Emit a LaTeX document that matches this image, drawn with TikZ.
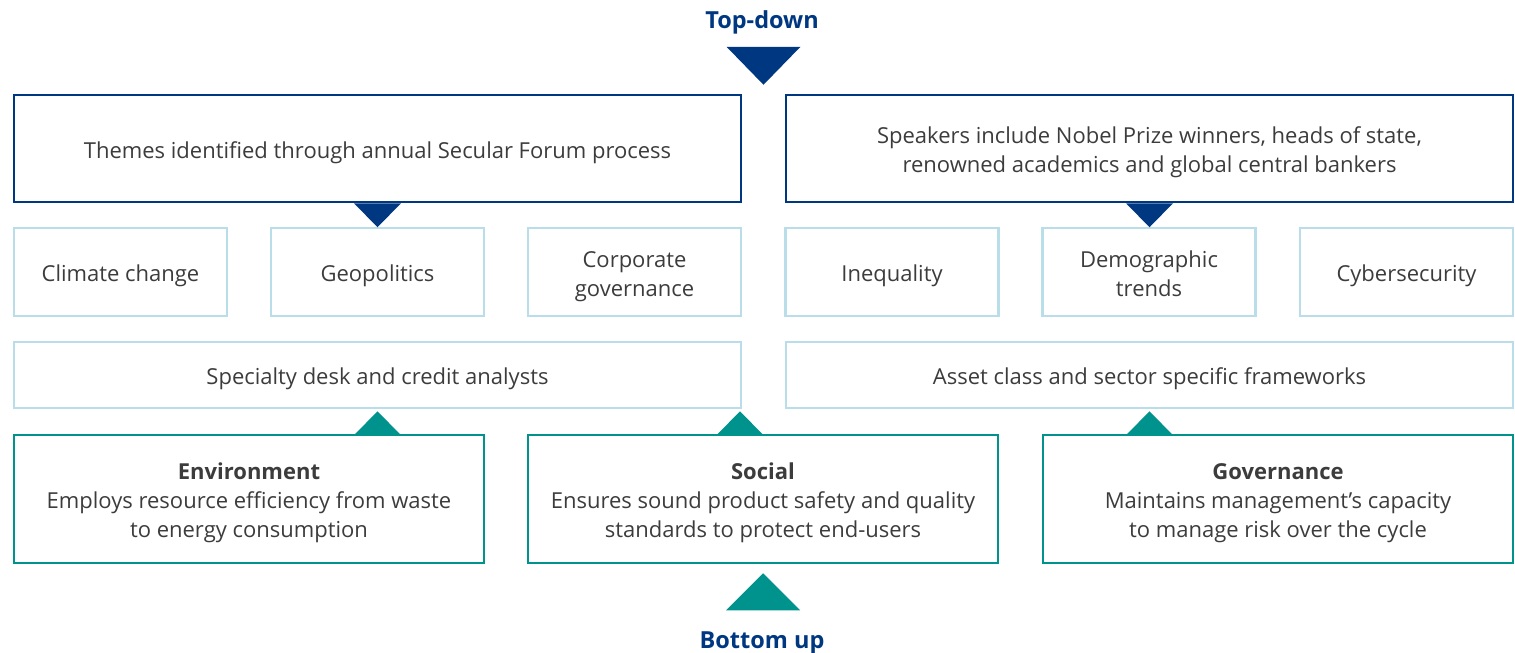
\documentclass[tikz,border=0pt]{standalone}
\usepackage{fontspec}
\setmainfont{Open Sans}
\usetikzlibrary{calc}
\definecolor{ablue}{HTML}{003781}
\definecolor{lblue}{HTML}{B9DDE9}
\definecolor{ateal}{HTML}{00928C}
\definecolor{txt}{HTML}{3C3C3C}
\newcommand\lowtext[1]{\raisebox{-4pt}[\height][\depth]{\begin{tabular}{@{}c@{}}#1\end{tabular}}}
\tikzset{
  base/.style={rectangle, line width=2.5pt, text=txt, inner sep=0pt,
    font=\fontsize{22}{29}\selectfont},
  bluebox/.style={base, draw=ablue},
  lightbox/.style={base, draw=lblue},
  tealbox/.style={base, draw=ateal},
  title/.style={text=ablue, font=\fontsize{23.5}{27}\selectfont\bfseries, inner sep=0pt},
}
\begin{document}
\begin{tikzpicture}[x=1pt,y=-1pt]
\useasboundingbox (0,0) rectangle (1515,653);
% titles
\node[title] (td) at (762,22) {Top-down};
\node[title] (bu) at (762,643) {Bottom up};
% top boxes
\node[bluebox, minimum width=727, minimum height=107] (t1) at (377.5,148.5)
  {\lowtext{Themes identified through annual Secular Forum process}};
\node[bluebox, minimum width=727, minimum height=107] (t2) at (1149.5,148.5)
  {\lowtext{Speakers include Nobel Prize winners, heads of state,\\renowned academics and global central bankers}};
% themes
\foreach \n/\x/\t in {c1/120.5/Climate change, c2/377.5/Geopolitics, c3/634.5/{Corporate\\governance},
  c4/892/Inequality, c5/1149/{Demographic\\trends}, c6/1406.5/Cybersecurity}{
  \node[lightbox, minimum width=213, minimum height=88] (\n) at (\x,272) {\lowtext{\t}};
}
% frameworks
\node[lightbox, minimum width=727, minimum height=66] (f1) at (377.5,375)
  {\lowtext{Specialty desk and credit analysts}};
\node[lightbox, minimum width=727, minimum height=66] (f2) at (1149.5,375)
  {\lowtext{Asset class and sector specific frameworks}};
% ESG
\node[tealbox, minimum width=470, minimum height=128] (e) at (249,499)
  {\lowtext{\textbf{Environment}\\Employs resource efficiency from waste\\to energy consumption}};
\node[tealbox, minimum width=470, minimum height=128] (s) at (763,499)
  {\lowtext{\textbf{Social}\\Ensures sound product safety and quality\\standards to protect end-users}};
\node[tealbox, minimum width=470, minimum height=128] (g) at (1278,499)
  {\lowtext{\textbf{Governance}\\Maintains management's capacity\\to manage risk over the cycle}};
% triangles
\coordinate (topmid) at ($(t1.north east)!0.5!(t2.north west)$);
\fill[ablue] ($(topmid)+(-37,-47)$) -- ++(74,0) -- ($(topmid)+(0,-9)$) -- cycle;
\fill[ablue] ($(t1.south)+(-23.5,0)$) -- ++(47,0) -- ($(t1.south)+(0,24)$) -- cycle;
\fill[ablue] ($(t2.south)+(-23.5,0)$) -- ++(47,0) -- ($(t2.south)+(0,24)$) -- cycle;
\fill[ateal] ($(f1.south)+(-23.5,26)$) -- ++(47,0) -- ($(f1.south)+(0,2)$) -- cycle;
\fill[ateal] ($(f1.south east)!0.5!(f2.south west)+(0,26)$) -- ++(-47,0) -- ++(23.5,-24) -- cycle;
\fill[ateal] ($(f2.south)+(-23.5,26)$) -- ++(47,0) -- ($(f2.south)+(0,2)$) -- cycle;
\fill[ateal] ($(s.south)+(0,9)$) -- ($(s.south)+(37,46)$) -- ($(s.south)+(-37,46)$) -- cycle;
\end{tikzpicture}
\end{document}
